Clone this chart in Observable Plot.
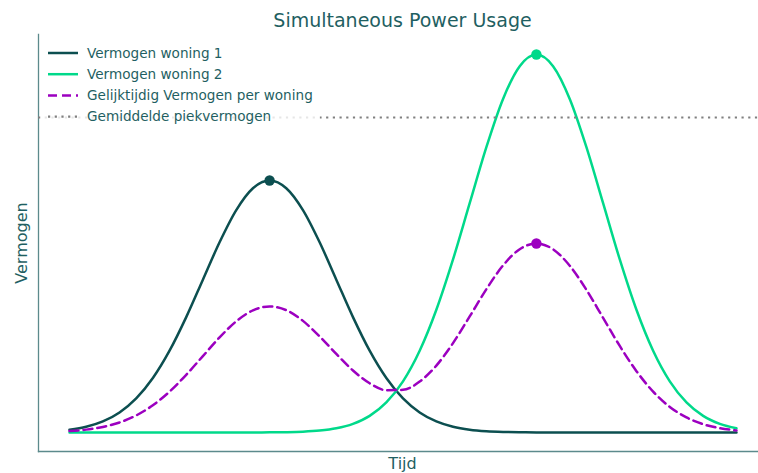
<!DOCTYPE html>
<html><head><meta charset="utf-8">
<script src="https://cdn.jsdelivr.net/npm/d3@7"></script>
<script src="https://cdn.jsdelivr.net/npm/@observablehq/plot@0.6"></script>
<style>body{margin:0;background:#fff;} #chart{width:758px;height:473px;}</style>
</head><body><div id="chart"></div>
<script>
// ---- data ----
const tijd = [0,0.25,0.5,0.75,1,1.25,1.5,1.75,2,2.25,2.5,2.75,3,3.25,3.5,3.75,4,4.25,4.5,4.75,5,5.25,5.5,5.75,6,6.25,6.5,6.75,7,7.25,7.5,7.75,8,8.25,8.5,8.75,9,9.25,9.5,9.75,10];
const woning1 = [0.0222,0.0456,0.0879,0.1591,0.2707,0.4325,0.6493,0.9157,1.2131,1.5097,1.7650,1.9385,2.0000,1.9385,1.7650,1.5097,1.2131,0.9157,0.6493,0.4325,0.2707,0.1591,0.0879,0.0456,0.0222,0.0102,0.0044,0.0018,0.0007,0.0002,0.0001,0,0,0,0,0,0,0,0,0,0];
const woning2 = [0,0,0,0,0,0,0,0,0,0,0.0001,0.0004,0.0010,0.0027,0.0066,0.0153,0.0333,0.0684,0.1318,0.2387,0.4060,0.6488,0.9740,1.3735,1.8196,2.2645,2.6475,2.9077,3.0000,2.9077,2.6475,2.2645,1.8196,1.3735,0.9740,0.6488,0.4060,0.2387,0.1318,0.0684,0.0333];
const gelijktijdig = [0.0111,0.0228,0.0440,0.0796,0.1354,0.2163,0.3247,0.4579,0.6066,0.7549,0.8826,0.9695,1.0005,0.9706,0.8858,0.7625,0.6232,0.4921,0.3906,0.3356,0.3384,0.4040,0.5310,0.7096,0.9209,1.1374,1.3260,1.4548,1.5004,1.4540,1.3238,1.1323,0.9098,0.6868,0.4870,0.3244,0.2030,0.1194,0.0659,0.0342,0.0167];
const gemiddeldePiek = 2.5;
const peakTijd = [3, 7, 7];
const peakVermogen = [2, 3, 1.5];
const peakSeries = ["Vermogen woning 1", "Vermogen woning 2", "Gelijktijdig Vermogen per woning"];
const seriesNames = ["Vermogen woning 1", "Vermogen woning 2", "Gelijktijdig Vermogen per woning", "Gemiddelde piekvermogen"];
const titleText = "Simultaneous Power Usage";
const xLabel = "Tijd";
const yLabel = "Vermogen";

// ---- styles ----
const colors = {
  "Vermogen woning 1": "#0c4f50",
  "Vermogen woning 2": "#00d98a",
  "Gelijktijdig Vermogen per woning": "#9c00c0",
  "Gemiddelde piekvermogen": "#808080"
};
const dashes = {
  "Vermogen woning 1": null,
  "Vermogen woning 2": null,
  "Gelijktijdig Vermogen per woning": "9,5",
  "Gemiddelde piekvermogen": "2.2,4.5"
};
const textColor = "#1f5f62";
const spineColor = "#5c8a8c";
const lw = 2.5;

const rows = (vals) => tijd.map((t, i) => ({t, v: vals[i]}));
const peaks = peakTijd.map((t, i) => ({t, v: peakVermogen[i], s: peakSeries[i]}));

const plot = Plot.plot({
  width: 758, height: 473,
  marginLeft: 38, marginRight: 0, marginTop: 34, marginBottom: 22,
  x: {domain: [0, 10], range: [69, 736], axis: null},
  y: {domain: [0, 3], range: [432, 54], axis: null},
  style: {fontFamily: "DejaVu Sans", background: "white", overflow: "visible"},
  marks: [
    Plot.frame({anchor: "left", stroke: spineColor, strokeWidth: 1.3}),
    Plot.frame({anchor: "bottom", stroke: spineColor, strokeWidth: 1.3}),
    Plot.line(rows(woning1), {x: "t", y: "v", stroke: colors[seriesNames[0]], strokeWidth: lw, curve: "monotone-x"}),
    Plot.line(rows(woning2), {x: "t", y: "v", stroke: colors[seriesNames[1]], strokeWidth: lw, curve: "monotone-x"}),
    Plot.line(rows(gelijktijdig), {x: "t", y: "v", stroke: colors[seriesNames[2]], strokeWidth: lw, strokeDasharray: dashes[seriesNames[2]], curve: "monotone-x"}),
    Plot.ruleY([gemiddeldePiek], {stroke: colors[seriesNames[3]], strokeWidth: 2.2, strokeDasharray: dashes[seriesNames[3]]}),
    Plot.dot(peaks, {x: "t", y: "v", r: 5.2, fill: d => colors[d.s], stroke: "none"}),
    Plot.text([titleText], {frameAnchor: "top", lineAnchor: "middle", textAnchor: "middle", dx: 4, dy: -14, fontSize: 19, fill: textColor}),
    Plot.text([xLabel], {frameAnchor: "bottom", lineAnchor: "middle", textAnchor: "middle", dx: 4, dy: 12.5, fontSize: 16, fill: textColor}),
    Plot.text([yLabel], {frameAnchor: "left", lineAnchor: "middle", textAnchor: "middle", dx: -17, rotate: -90, fontSize: 16, fill: textColor})
  ]
});

// ---- legend (inside the axes, top-left) ----
const svg = d3.select(plot);
const lg = svg.append("g").attr("font-family", "DejaVu Sans").attr("font-size", 13.6).attr("text-anchor", "start");
lg.append("rect").attr("x", 42).attr("y", 40).attr("width", 278).attr("height", 88)
  .attr("rx", 3).attr("fill", "white").attr("fill-opacity", 0.8);
seriesNames.forEach((name, i) => {
  const y = 53 + i * 21.2;
  lg.append("line").attr("x1", 48).attr("x2", 78).attr("y1", y).attr("y2", y)
    .attr("stroke", colors[name]).attr("stroke-width", i === 3 ? 2.2 : lw)
    .attr("stroke-dasharray", dashes[name]);
  lg.append("text").attr("x", 87).attr("y", y).attr("dy", "0.35em")
    .attr("text-anchor", "start").attr("fill", textColor).text(name);
});

document.getElementById("chart").appendChild(plot);
</script>
</body></html>
